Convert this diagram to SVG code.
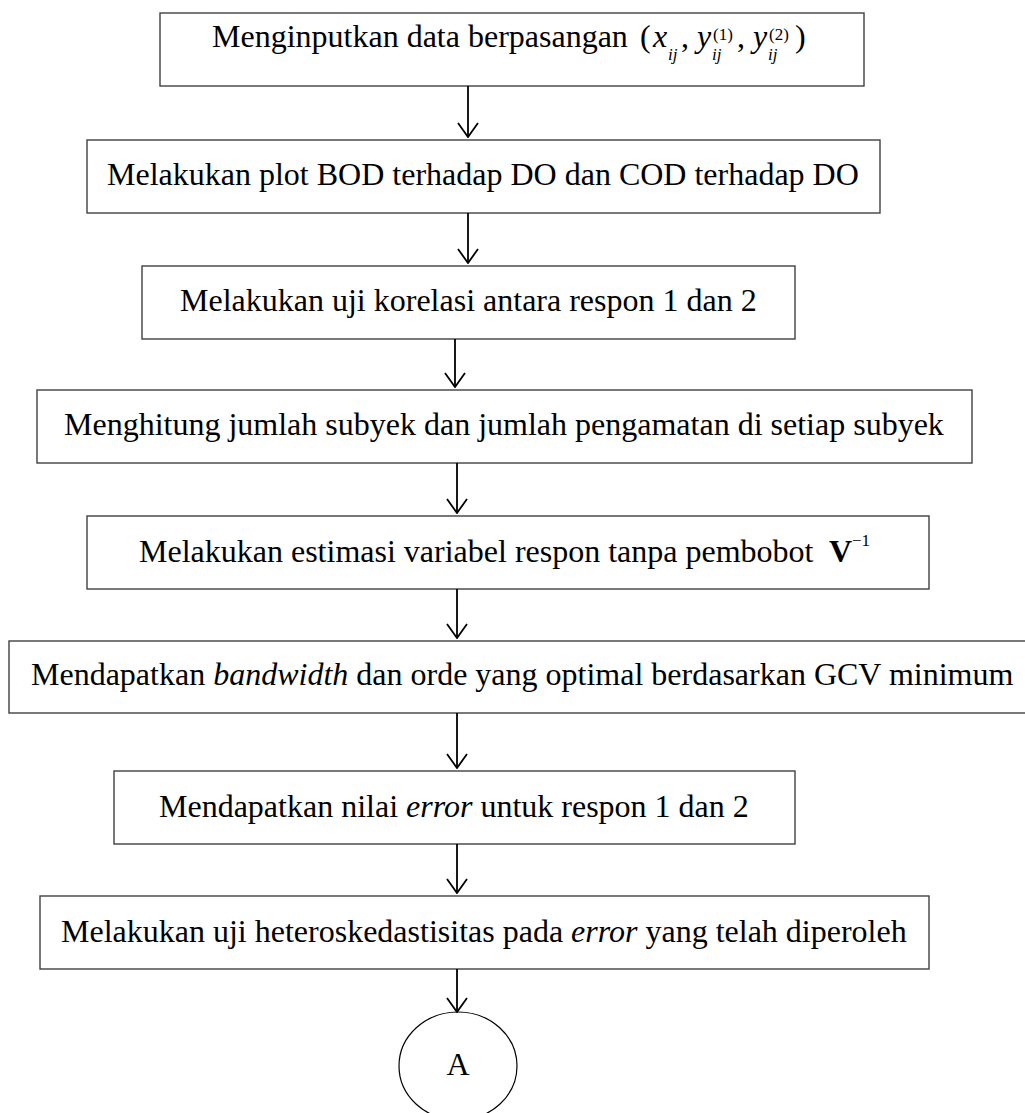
<svg xmlns="http://www.w3.org/2000/svg" width="1025" height="1113" viewBox="0 0 1025 1113">
<style>
.box{fill:#fff;stroke:#404040;stroke-width:1.4}
.t{font-family:"Liberation Serif","Times New Roman",serif;font-size:32px;fill:#000}
.s{font-family:"Liberation Serif","Times New Roman",serif;font-size:17px;fill:#000}
.i{font-style:italic}
.b{font-weight:bold}
.c line{stroke:#000;stroke-width:1.8;fill:none}
</style>
<defs>
<marker id="ah" viewBox="0 0 16 22" refX="15" refY="11" markerWidth="16" markerHeight="22" markerUnits="userSpaceOnUse" orient="auto">
<path d="M1,1 L15,11 L1,21" fill="none" stroke="#000" stroke-width="1.8"/>
</marker>
</defs>
<rect width="1025" height="1113" fill="#fff"/>
<g id="n1">
<rect class="box" x="160" y="13" width="704" height="73"/>
<text class="t" x="212" y="47">Menginputkan data berpasangan</text>
<text class="t" x="640" y="47">(</text>
<text class="t i" x="653" y="47">x</text>
<text class="s i" x="668" y="60">ij</text>
<text class="t" x="681" y="47">,</text>
<text class="t i" x="697" y="47">y</text>
<text class="s i" x="712" y="60">ij</text>
<text class="s" x="713" y="40">(1)</text>
<text class="t" x="737" y="47">,</text>
<text class="t i" x="753" y="47">y</text>
<text class="s i" x="768" y="60">ij</text>
<text class="s" x="769" y="40">(2)</text>
<text class="t" x="795" y="47">)</text>
</g>
<g id="n2">
<rect class="box" x="87" y="140" width="793" height="73"/>
<text class="t" x="107" y="185">Melakukan plot BOD terhadap DO dan COD terhadap DO</text>
</g>
<g id="n3">
<rect class="box" x="142" y="266" width="653" height="73"/>
<text class="t" x="180" y="311">Melakukan uji korelasi antara respon 1 dan 2</text>
</g>
<g id="n4">
<rect class="box" x="37" y="390" width="935" height="73"/>
<text class="t" x="64" y="435">Menghitung jumlah subyek dan jumlah pengamatan di setiap subyek</text>
</g>
<g id="n5">
<rect class="box" x="87" y="516" width="842" height="73"/>
<text class="t" x="139" y="562">Melakukan estimasi variabel respon tanpa pembobot</text>
<text class="t b" x="829" y="562">V</text>
<text class="s" x="852" y="546">−1</text>
</g>
<g id="n6">
<rect class="box" x="9" y="641" width="1040" height="72"/>
<text class="t" x="31" y="685">Mendapatkan <tspan class="i">bandwidth</tspan> dan orde yang optimal berdasarkan GCV minimum</text>
</g>
<g id="n7">
<rect class="box" x="114" y="771" width="681" height="73"/>
<text class="t" x="159" y="817">Mendapatkan nilai <tspan class="i">error</tspan> untuk respon 1 dan 2</text>
</g>
<g id="n8">
<rect class="box" x="40" y="896" width="889" height="73"/>
<text class="t" x="61" y="942">Melakukan uji heteroskedastisitas pada <tspan class="i">error</tspan> yang telah diperoleh</text>
</g>
<g id="nA">
<ellipse cx="458" cy="1066" rx="59" ry="54" fill="#fff" stroke="#000" stroke-width="1.2"/>
<text class="t" x="458" y="1075" text-anchor="middle">A</text>
</g>
<g class="c" id="connectors">
<line x1="468" y1="86" x2="468" y2="137" marker-end="url(#ah)"/>
<line x1="468" y1="213" x2="468" y2="263" marker-end="url(#ah)"/>
<line x1="455" y1="339" x2="455" y2="387" marker-end="url(#ah)"/>
<line x1="457" y1="463" x2="457" y2="513" marker-end="url(#ah)"/>
<line x1="457" y1="589" x2="457" y2="638" marker-end="url(#ah)"/>
<line x1="457" y1="713" x2="457" y2="768" marker-end="url(#ah)"/>
<line x1="457" y1="844" x2="457" y2="893" marker-end="url(#ah)"/>
<line x1="457" y1="969" x2="457" y2="1012" marker-end="url(#ah)"/>
</g>
</svg>
